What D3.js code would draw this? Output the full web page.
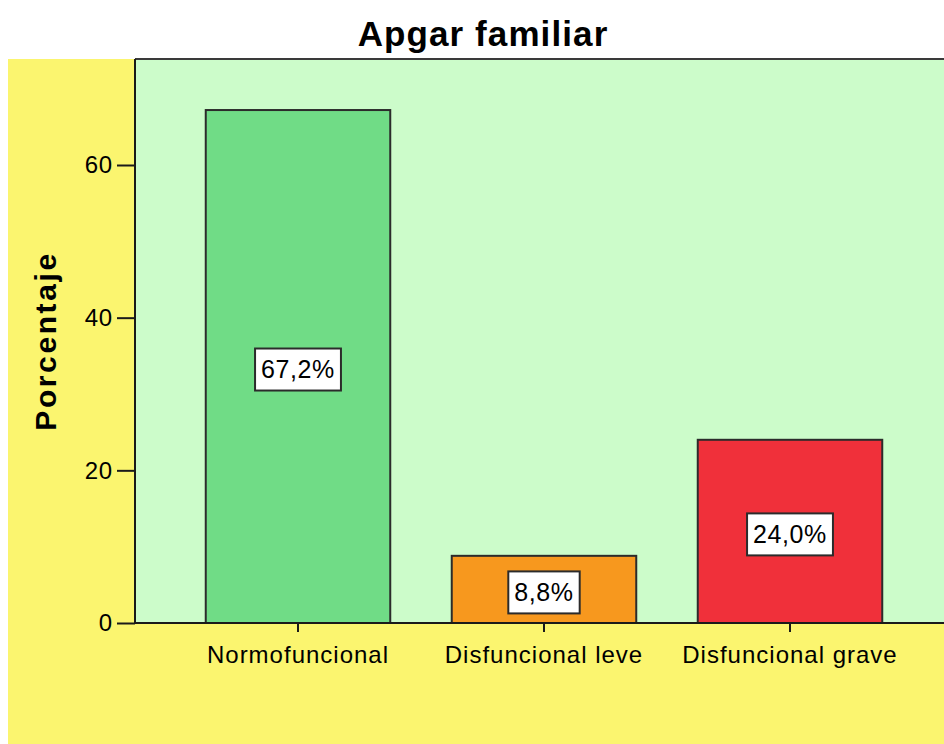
<!DOCTYPE html>
<html>
<head>
<meta charset="utf-8">
<script src="https://cdn.jsdelivr.net/npm/d3@7"></script>
<style>
  body { margin: 0; background: #ffffff; }
  svg text { font-family: "Liberation Sans", Arial, sans-serif; fill: #000; }
</style>
</head>
<body>
<script>
// data
var categories = ["Normofuncional", "Disfuncional leve", "Disfuncional grave"];
var percentages = [67.2, 8.8, 24.0];
var barLabels = ["67,2%", "8,8%", "24,0%"];
var barColors = ["#70dc86", "#f7981e", "#f0303a"];
var yTicks = [0, 20, 40, 60];

var svgWidth = 944;
var svgHeight = 744;

// plot frame
var plot = { left: 135, top: 59, right: 944, bottom: 623 };

var svg = d3.select("body")
  .append("svg")
  .attr("width", svgWidth)
  .attr("height", svgHeight);

// yellow outer panel
svg.append("rect")
  .attr("x", 8).attr("y", plot.top)
  .attr("width", svgWidth - 8).attr("height", svgHeight - plot.top)
  .attr("fill", "#fbf56f");

// green inner plot
svg.append("rect")
  .attr("x", plot.left).attr("y", plot.top)
  .attr("width", plot.right - plot.left).attr("height", plot.bottom - plot.top)
  .attr("fill", "#ccfcca");

// scales
var yScale = d3.scaleLinear()
  .domain([0, 60])
  .range([plot.bottom, 165]);

var xScale = d3.scaleBand()
  .domain(categories)
  .range([plot.left, 953])
  .paddingInner(0.25)
  .paddingOuter(0.2876);

// bars
svg.selectAll("rect.bar")
  .data(percentages)
  .enter()
  .append("rect")
  .attr("class", "bar")
  .attr("x", function(d, i) { return xScale(categories[i]); })
  .attr("y", function(d) { return yScale(d); })
  .attr("width", xScale.bandwidth())
  .attr("height", function(d) { return plot.bottom - yScale(d); })
  .attr("fill", function(d, i) { return barColors[i]; })
  .attr("stroke", "#2b2b2b")
  .attr("stroke-width", 2);

// top frame line
svg.append("line")
  .attr("x1", plot.left).attr("x2", plot.right)
  .attr("y1", plot.top).attr("y2", plot.top)
  .attr("stroke", "#3a3a3a").attr("stroke-width", 2);

// axes
var leftAxis = d3.axisLeft(yScale)
  .tickValues(yTicks)
  .tickSize(18)
  .tickPadding(4)
  .tickSizeOuter(0);

var yAxisG = svg.append("g")
  .attr("transform", "translate(" + plot.left + ",0)")
  .call(leftAxis);
yAxisG.select(".domain").remove();
yAxisG.append("line")
  .attr("x1", 0).attr("x2", 0)
  .attr("y1", plot.top).attr("y2", plot.bottom)
  .attr("stroke", "#1a1a1a").attr("stroke-width", 2);

var bottomAxis = d3.axisBottom(xScale)
  .tickSize(9)
  .tickPadding(14)
  .tickSizeOuter(0);

var xAxisG = svg.append("g")
  .attr("transform", "translate(0," + plot.bottom + ")")
  .call(bottomAxis);
xAxisG.select(".domain").remove();
xAxisG.append("line")
  .attr("x1", plot.left).attr("x2", plot.right)
  .attr("y1", 0).attr("y2", 0)
  .attr("stroke", "#1a1a1a").attr("stroke-width", 2);

svg.selectAll(".tick line")
  .attr("stroke", "#1a1a1a").attr("stroke-width", 2);
yAxisG.selectAll(".tick text")
  .style("font-size", "24px")
  .style("letter-spacing", "0.8px")
  .style("font-family", "Liberation Sans, Arial, sans-serif")
  .attr("fill", "#000");
xAxisG.selectAll(".tick text")
  .style("font-size", "24px")
  .style("letter-spacing", "1px")
  .style("font-family", "Liberation Sans, Arial, sans-serif")
  .attr("fill", "#000");

// value boxes inside bars
var labelG = svg.selectAll("g.vlabel")
  .data(percentages)
  .enter()
  .append("g")
  .attr("class", "vlabel")
  .attr("transform", function(d, i) {
    var cx = xScale(categories[i]) + xScale.bandwidth() / 2;
    var cy = (yScale(d) + plot.bottom) / 2 + 3;
    return "translate(" + cx + "," + cy + ")";
  });

labelG.append("text")
  .attr("text-anchor", "middle")
  .attr("dy", "0.35em")
  .style("font-size", "25px")
  .style("letter-spacing", "0.6px")
  .text(function(d, i) { return barLabels[i]; });

labelG.each(function() {
  var g = d3.select(this);
  var bb = g.select("text").node().getBBox();
  g.insert("rect", "text")
    .attr("x", bb.x - 6)
    .attr("y", -21)
    .attr("width", bb.width + 12)
    .attr("height", 42)
    .attr("fill", "#ffffff")
    .attr("stroke", "#2b2b2b")
    .attr("stroke-width", 2);
});

// title
svg.append("text")
  .attr("x", 483)
  .attr("y", 46)
  .attr("text-anchor", "middle")
  .style("font-size", "35px")
  .style("font-weight", "bold")
  .style("letter-spacing", "1.1px")
  .text("Apgar familiar");

// y axis label
svg.append("text")
  .attr("transform", "translate(56,341) rotate(-90)")
  .attr("text-anchor", "middle")
  .style("font-size", "30px")
  .style("font-weight", "bold")
  .style("letter-spacing", "2.6px")
  .text("Porcentaje");
</script>
</body>
</html>
